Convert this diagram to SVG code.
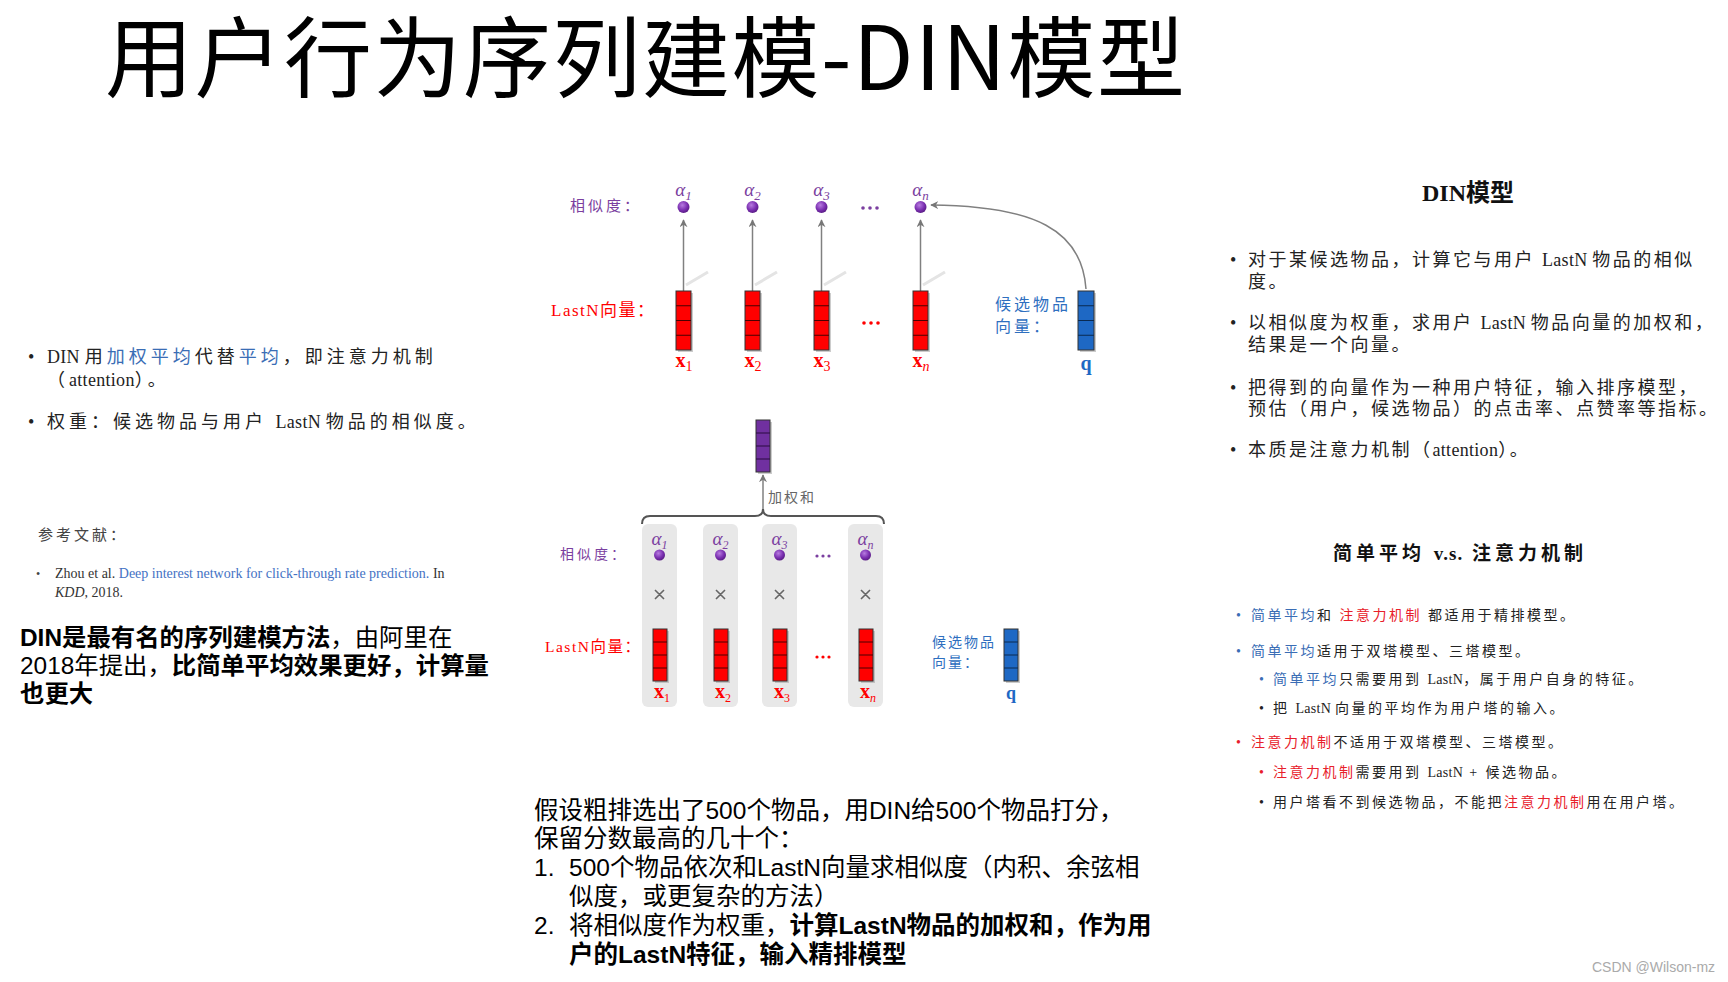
<svg xmlns="http://www.w3.org/2000/svg" xmlns:xlink="http://www.w3.org/1999/xlink" width="1728" height="982" viewBox="0 0 1728 982">
<style>
.sans{font-family:"Liberation Sans","Noto Sans CJK SC",sans-serif}
.ser{font-family:"Liberation Serif","Noto Sans CJK SC",serif}
.cjk{font-family:"Noto Sans CJK SC",sans-serif}
.pur{fill:#7B3FA0}
.red{fill:#FF0000}
.blu{fill:#2E6FBF}
.txt{fill:#222}
.b{font-weight:700}
.lat{letter-spacing:0.3px}
.alpha{font-family:"Liberation Serif","DejaVu Serif",serif;font-style:italic;font-size:19px;fill:#7B3FA0}
.xl{font-family:"Liberation Serif","DejaVu Serif",serif;font-weight:700;font-size:20px;fill:#FF0000}
.arr{stroke:#808080;stroke-width:1.5;fill:none}
.refl{stroke:#e4e4e4;stroke-width:3}
.col{fill:#e8e8e8}
.times{stroke:#666;stroke-width:1.6}
</style>
<defs>
<marker id="ah" viewBox="0 0 10 10" refX="9" refY="5" markerWidth="8" markerHeight="8" markerUnits="userSpaceOnUse" orient="auto">
<path d="M0,0 L10,5 L0,10 L3,5 z" fill="#777"/>
</marker>
<radialGradient id="dot" cx="0.4" cy="0.35" r="0.7">
<stop offset="0" stop-color="#b77be0"/>
<stop offset="0.6" stop-color="#7a2fb0"/>
<stop offset="1" stop-color="#55197f"/>
</radialGradient>
<g id="vecR">
<rect x="2" y="2" width="15" height="59" fill="#999" opacity="0.5"/>
<rect width="15" height="59" fill="#FF0000" stroke="#333" stroke-width="1"/>
<path d="M0,14.75H15M0,29.5H15M0,44.25H15" stroke="#4a0000" stroke-width="1"/>
</g>
<g id="vecB">
<rect x="2" y="2" width="16" height="59" fill="#999" opacity="0.5"/>
<rect width="16" height="59" fill="#1E68C4" stroke="#333" stroke-width="1"/>
<path d="M0,14.75H16M0,29.5H16M0,44.25H16" stroke="#0a2a50" stroke-width="1"/>
</g>
<g id="vecRs">
<rect x="2" y="2" width="14" height="52" fill="#999" opacity="0.5"/>
<rect width="14" height="52" fill="#FF0000" stroke="#333" stroke-width="1"/>
<path d="M0,13H14M0,26H14M0,39H14" stroke="#4a0000" stroke-width="1"/>
</g>
<g id="vecBs">
<rect x="2" y="2" width="14" height="52" fill="#999" opacity="0.5"/>
<rect width="14" height="52" fill="#1E68C4" stroke="#333" stroke-width="1"/>
<path d="M0,13H14M0,26H14M0,39H14" stroke="#0a2a50" stroke-width="1"/>
</g>
<g id="vecP">
<rect x="2" y="2" width="14" height="52" fill="#999" opacity="0.5"/>
<rect width="14" height="52" fill="#7030A0" stroke="#333" stroke-width="1"/>
<path d="M0,13H14M0,26H14M0,39H14" stroke="#2a0a40" stroke-width="1"/>
</g>
</defs>
<rect width="1728" height="982" fill="#fff"/>

<g id="title">
<text x="105" y="90" class="cjk" font-size="88" letter-spacing="1.5" fill="#000">用户行为序列建模-DIN模型</text>
</g>

<!-- Left texts -->
<g id="left-bullets" class="ser" font-size="18" letter-spacing="4">
<text x="28" y="363" class="txt">•</text>
<text x="47" y="363" class="txt"><tspan class="lat">DIN </tspan>用<tspan fill="#3A6DB5">加权平均</tspan>代替<tspan fill="#3A6DB5">平均</tspan>，即注意力机制</text>
<text x="47" y="386" class="txt">（<tspan class="lat">attention</tspan>）。</text>
<text x="28" y="428" class="txt">•</text>
<text x="47" y="428" class="txt">权重：候选物品与用户 <tspan class="lat">LastN </tspan>物品的相似度。</text>
</g>
<g id="reference" class="ser">
<text x="38" y="540" font-size="15" letter-spacing="3" fill="#444">参考文献：</text>
<text x="36" y="578" font-size="12" fill="#444">•</text>
<text x="55" y="578" font-size="14" fill="#333">Zhou et al. <tspan fill="#4472C4">Deep interest network for click-through rate prediction.</tspan> In</text>
<text x="55" y="597" font-size="14" fill="#333"><tspan font-style="italic">KDD</tspan>, 2018.</text>
</g>
<g id="left-note" class="sans" font-size="24.4" fill="#000">
<text x="20" y="646"><tspan class="b">DIN是最有名的序列建模方法</tspan>，由阿里在</text>
<text x="20" y="674">2018年提出，<tspan class="b">比简单平均效果更好，计算量</tspan></text>
<text x="20" y="702" class="b">也更大</text>
</g>

<!-- Top diagram -->
<g id="connectors">
<path class="arr" d="M683.5,291 V220" marker-end="url(#ah)"/>
<path class="arr" d="M752.5,291 V220" marker-end="url(#ah)"/>
<path class="arr" d="M821.5,291 V220" marker-end="url(#ah)"/>
<path class="arr" d="M920.5,291 V220" marker-end="url(#ah)"/>
<path class="arr" d="M1086,289 C1082,230 1035,206 931,205" marker-end="url(#ah)"/>
<path class="refl" d="M686,285 L708,272 M755,285 L777,272 M824,285 L846,272 M923,285 L945,272"/>
<path d="M642,524 Q642,516 650,516 L755,516 Q763,516 763,509 Q763,516 771,516 L876,516 Q884,516 884,524" fill="none" stroke="#555" stroke-width="2"/>
<path class="arr" d="M763,509 V475" stroke="#555" marker-end="url(#ah)"/>
</g>

<g id="top-labels" class="ser">
<text x="570" y="211" font-size="15" letter-spacing="3" class="pur">相似度：</text>
<text x="551" y="316" font-size="17" letter-spacing="1.5" class="red">LastN向量：</text>
<text x="995" y="310" font-size="16" letter-spacing="3" class="blu">候选物品</text>
<text x="995" y="332" font-size="16" letter-spacing="3" class="blu">向量：</text>
</g>

<g id="top-sims">
<text x="683.5" y="196" class="alpha" text-anchor="middle">α<tspan font-size="13" dy="4">1</tspan></text>
<text x="752.5" y="196" class="alpha" text-anchor="middle">α<tspan font-size="13" dy="4">2</tspan></text>
<text x="821.5" y="196" class="alpha" text-anchor="middle">α<tspan font-size="13" dy="4">3</tspan></text>
<text x="920.5" y="196" class="alpha" text-anchor="middle">α<tspan font-size="13" dy="4">n</tspan></text>
<circle cx="683.5" cy="207" r="6" fill="url(#dot)"/>
<circle cx="752.5" cy="207" r="6" fill="url(#dot)"/>
<circle cx="821.5" cy="207" r="6" fill="url(#dot)"/>
<circle cx="920.5" cy="207" r="6" fill="url(#dot)"/>
<g fill="#7B3FA0"><circle cx="863" cy="208" r="1.8"/><circle cx="870" cy="208" r="1.8"/><circle cx="877" cy="208" r="1.8"/></g>
</g>

<g id="top-vectors">
<use xlink:href="#vecR" x="676" y="291"/>
<use xlink:href="#vecR" x="745" y="291"/>
<use xlink:href="#vecR" x="814" y="291"/>
<use xlink:href="#vecR" x="913" y="291"/>
<g fill="#FF0000"><circle cx="864" cy="323" r="1.8"/><circle cx="871" cy="323" r="1.8"/><circle cx="878" cy="323" r="1.8"/></g>
<text x="684" y="367" class="xl" text-anchor="middle">x<tspan font-size="14" font-weight="400" dy="4">1</tspan></text>
<text x="753" y="367" class="xl" text-anchor="middle">x<tspan font-size="14" font-weight="400" dy="4">2</tspan></text>
<text x="822" y="367" class="xl" text-anchor="middle">x<tspan font-size="14" font-weight="400" dy="4">3</tspan></text>
<text x="921" y="367" class="xl" text-anchor="middle">x<tspan font-size="14" font-weight="400" font-style="italic" dy="4">n</tspan></text>
</g>
<g id="top-q">
<use xlink:href="#vecB" x="1078" y="291"/>
<text x="1086" y="370" font-family="Liberation Serif, serif" font-weight="700" font-size="20" fill="#1E68C4" text-anchor="middle">q</text>
</g>

<!-- Lower diagram -->
<g id="weighted-sum">
<use xlink:href="#vecP" x="756" y="420"/>
<text x="768" y="502" class="ser" font-size="14" letter-spacing="2" fill="#666">加权和</text>
</g>
<g id="low-columns">
<rect class="col" x="642" y="524" width="35" height="183" rx="6"/>
<rect class="col" x="703" y="524" width="35" height="183" rx="6"/>
<rect class="col" x="762" y="524" width="35" height="183" rx="6"/>
<rect class="col" x="848" y="524" width="35" height="183" rx="6"/>
</g>
<g id="low-labels" class="ser">
<text x="560" y="559" font-size="14" letter-spacing="3" class="pur">相似度：</text>
<text x="545" y="652" font-size="15.5" letter-spacing="1.5" class="red">LastN向量：</text>
<text x="932" y="647" font-size="14" letter-spacing="2" class="blu">候选物品</text>
<text x="932" y="667" font-size="14" letter-spacing="2" class="blu">向量：</text>
</g>
<g id="low-sims">
<text x="659.5" y="545" class="alpha" font-size="17" text-anchor="middle">α<tspan font-size="12" dy="4">1</tspan></text>
<text x="720.5" y="545" class="alpha" font-size="17" text-anchor="middle">α<tspan font-size="12" dy="4">2</tspan></text>
<text x="779.5" y="545" class="alpha" font-size="17" text-anchor="middle">α<tspan font-size="12" dy="4">3</tspan></text>
<text x="865.5" y="545" class="alpha" font-size="17" text-anchor="middle">α<tspan font-size="12" dy="4">n</tspan></text>
<circle cx="659.5" cy="555" r="5.5" fill="url(#dot)"/>
<circle cx="720.5" cy="555" r="5.5" fill="url(#dot)"/>
<circle cx="779.5" cy="555" r="5.5" fill="url(#dot)"/>
<circle cx="865.5" cy="555" r="5.5" fill="url(#dot)"/>
<g fill="#7B3FA0"><circle cx="817" cy="556" r="1.6"/><circle cx="823" cy="556" r="1.6"/><circle cx="829" cy="556" r="1.6"/></g>
<path class="times" d="M655,590 l9,9 m0,-9 l-9,9 M716,590 l9,9 m0,-9 l-9,9 M775,590 l9,9 m0,-9 l-9,9 M861,590 l9,9 m0,-9 l-9,9"/>
</g>
<g id="low-vectors">
<use xlink:href="#vecRs" x="653" y="629"/>
<use xlink:href="#vecRs" x="714" y="629"/>
<use xlink:href="#vecRs" x="773" y="629"/>
<use xlink:href="#vecRs" x="859" y="629"/>
<g fill="#FF0000"><circle cx="817" cy="657" r="1.6"/><circle cx="823" cy="657" r="1.6"/><circle cx="829" cy="657" r="1.6"/></g>
<text x="662" y="698" class="xl" font-size="18" text-anchor="middle">x<tspan font-size="12" font-weight="400" dy="4">1</tspan></text>
<text x="723" y="698" class="xl" font-size="18" text-anchor="middle">x<tspan font-size="12" font-weight="400" dy="4">2</tspan></text>
<text x="782" y="698" class="xl" font-size="18" text-anchor="middle">x<tspan font-size="12" font-weight="400" dy="4">3</tspan></text>
<text x="868" y="698" class="xl" font-size="18" text-anchor="middle">x<tspan font-size="12" font-weight="400" font-style="italic" dy="4">n</tspan></text>
</g>
<g id="low-q">
<use xlink:href="#vecBs" x="1004" y="629"/>
<text x="1011" y="699" font-family="Liberation Serif, serif" font-weight="700" font-size="18" fill="#1E68C4" text-anchor="middle">q</text>
</g>

<!-- Right texts -->
<g id="din-model" class="ser" fill="#222">
<text x="1468" y="201" font-size="24" font-weight="700" text-anchor="middle" fill="#111">DIN模型</text>
<g font-size="18" letter-spacing="2.5">
<text x="1230" y="266">•</text>
<text x="1248" y="266">对于某候选物品，计算它与用户 <tspan class="lat">LastN </tspan>物品的相似</text>
<text x="1248" y="288">度。</text>
<text x="1230" y="329">•</text>
<text x="1248" y="329">以相似度为权重，求用户 <tspan class="lat">LastN </tspan>物品向量的加权和，</text>
<text x="1248" y="351">结果是一个向量。</text>
<text x="1230" y="394">•</text>
<text x="1248" y="394">把得到的向量作为一种用户特征，输入排序模型，</text>
<text x="1248" y="415">预估（用户，候选物品）的点击率、点赞率等指标。</text>
<text x="1230" y="456">•</text>
<text x="1248" y="456">本质是注意力机制（<tspan class="lat">attention</tspan>）。</text>
</g>
</g>
<g id="compare" class="ser" fill="#222">
<text x="1460" y="560" font-size="19" font-weight="700" letter-spacing="4" text-anchor="middle" fill="#111">简单平均 <tspan letter-spacing="1">v.s.</tspan> 注意力机制</text>
<g font-size="14" letter-spacing="2.5">
<text x="1236" y="620" fill="#3A6DB5">•</text>
<text x="1251" y="620"><tspan fill="#3A6DB5">简单平均</tspan>和 <tspan fill="#E8202A">注意力机制</tspan> 都适用于精排模型。</text>
<text x="1236" y="656" fill="#3A6DB5">•</text>
<text x="1251" y="656"><tspan fill="#3A6DB5">简单平均</tspan>适用于双塔模型、三塔模型。</text>
<text x="1259" y="684" fill="#3A6DB5">•</text>
<text x="1273" y="684"><tspan fill="#3A6DB5">简单平均</tspan>只需要用到 <tspan class="lat">LastN</tspan>，属于用户自身的特征。</text>
<text x="1259" y="713">•</text>
<text x="1273" y="713">把 <tspan class="lat">LastN </tspan>向量的平均作为用户塔的输入。</text>
<text x="1236" y="747" fill="#E8202A">•</text>
<text x="1251" y="747"><tspan fill="#E8202A">注意力机制</tspan>不适用于双塔模型、三塔模型。</text>
<text x="1259" y="777" fill="#E8202A">•</text>
<text x="1273" y="777"><tspan fill="#E8202A">注意力机制</tspan>需要用到 <tspan class="lat">LastN</tspan> + 候选物品。</text>
<text x="1259" y="807">•</text>
<text x="1273" y="807">用户塔看不到候选物品，不能把<tspan fill="#E8202A">注意力机制</tspan>用在用户塔。</text>
</g>
</g>

<!-- Bottom text -->
<g id="bottom-note" class="sans" font-size="24.5" fill="#000">
<text x="534" y="819">假设粗排选出了500个物品，用DIN给500个物品打分，</text>
<text x="534" y="847">保留分数最高的几十个：</text>
<text x="534" y="876">1.</text>
<text x="569" y="876">500个物品依次和LastN向量求相似度（内积、余弦相</text>
<text x="569" y="905">似度，或更复杂的方法）</text>
<text x="534" y="934">2.</text>
<text x="569" y="934">将相似度作为权重，<tspan class="b">计算LastN物品的加权和，作为用</tspan></text>
<text x="569" y="963" class="b">户的LastN特征，输入精排模型</text>
</g>

<g id="watermark">
<text x="1592" y="972" class="sans" font-size="14" fill="#aaa">CSDN @Wilson-mz</text>
</g>
</svg>
